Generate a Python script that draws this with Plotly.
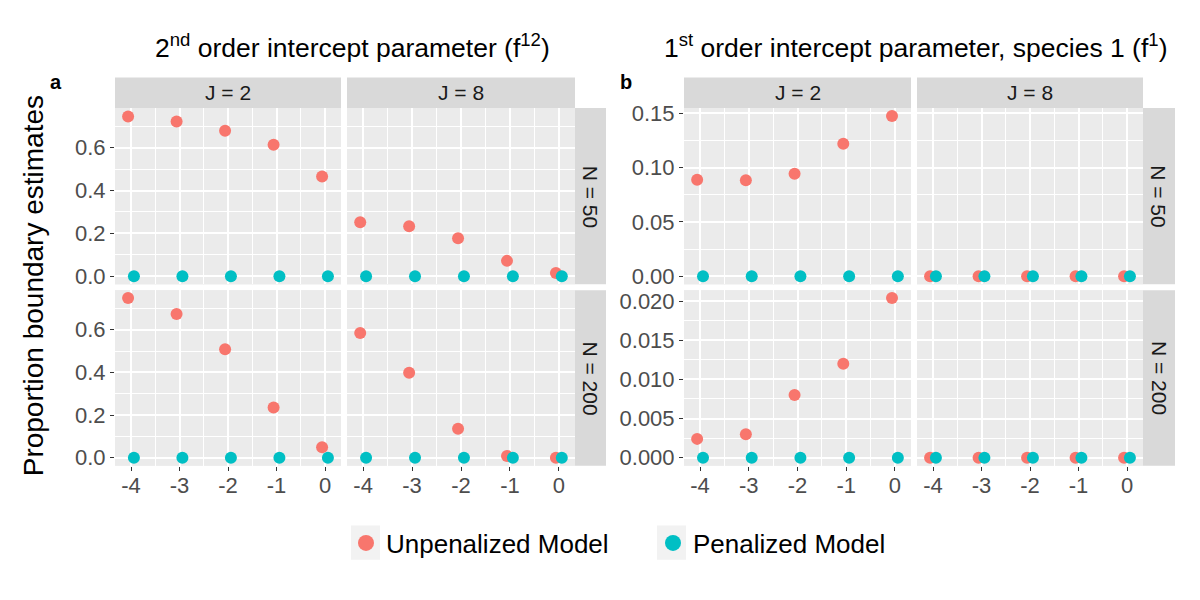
import plotly.graph_objects as go

W, H = 1200, 600

# x values (intercept parameter) and their tick labels
x_vals = [-4, -3, -2, -1, 0]
x_ticklabels = ["-4", "-3", "-2", "-1", "0"]

# panel a: 2nd order intercept parameter (f12), unpenalized model
a_n50_j2 = [0.745, 0.722, 0.679, 0.613, 0.465]
a_n50_j8 = [0.252, 0.233, 0.177, 0.072, 0.015]
a_n200_j2 = [0.748, 0.674, 0.508, 0.235, 0.049]
a_n200_j8 = [0.584, 0.398, 0.136, 0.008, 0.0]

# panel b: 1st order intercept parameter, species 1 (f1), unpenalized model
b_n50_j2 = [0.0888, 0.0885, 0.0945, 0.122, 0.1475]
b_n50_j8 = [0.0, 0.0, 0.0, 0.0, 0.0]
b_n200_j2 = [0.0024, 0.003, 0.008, 0.012, 0.0204]
b_n200_j8 = [0.0, 0.0, 0.0, 0.0, 0.0]

# penalized model is always zero
penalized = [0.0, 0.0, 0.0, 0.0, 0.0]

col_labels = ["J = 2", "J = 8"]
row_labels = ["N = 50", "N = 200"]
series_names = ["Unpenalized Model", "Penalized Model"]

red = "#F8766D"
teal = "#00BFC4"
panel_bg = "#EBEBEB"
strip_bg = "#D9D9D9"
font = "Liberation Sans, Arial, sans-serif"
dodge = 0.06


def px_x(p):
    return p / W


def px_y(p):
    return 1 - p / H


def label(x, y, text, size, color="black", angle=0):
    # annotation centered on a pixel position
    return dict(xref="paper", yref="paper", x=px_x(x), y=px_y(y), text=text,
                xanchor="center", yanchor="middle", textangle=angle, showarrow=False,
                font=dict(size=size, color=color, family=font))


def box(x0, x1, y0, y1, color, layer="above"):
    # rectangle given in pixels from the top-left corner
    return dict(type="rect", xref="paper", yref="paper", layer=layer,
                x0=px_x(x0), x1=px_x(x1), y0=px_y(y1), y1=px_y(y0),
                fillcolor=color, line=dict(width=0))


# pixel boxes of the facets
col_px = {"a": [(115, 341), (347, 575)], "b": [(684, 911), (917, 1143)]}
row_px = [(103, 283), (289, 468)]
rstrip_px = {"a": (575, 606), "b": (1143, 1175)}
strip_top = 72

panels = [
    ("a", 0, 0, a_n50_j2), ("a", 0, 1, a_n50_j8),
    ("a", 1, 0, a_n200_j2), ("a", 1, 1, a_n200_j8),
    ("b", 0, 0, b_n50_j2), ("b", 0, 1, b_n50_j8),
    ("b", 1, 0, b_n200_j2), ("b", 1, 1, b_n200_j8),
]

# y scale of each row (fixed in a, free per row in b)
y_cfg = {
    ("a", 0): dict(range=[-0.0374, 0.785], dtick=0.2, minor=0.1, fmt=".1f"),
    ("a", 1): dict(range=[-0.0374, 0.785], dtick=0.2, minor=0.1, fmt=".1f"),
    ("b", 0): dict(range=[-0.0074, 0.155], dtick=0.05, minor=0.025, fmt=".2f"),
    ("b", 1): dict(range=[-0.00102, 0.0214], dtick=0.005, minor=0.0025, fmt=".3f"),
}

fig = go.Figure()
shapes = []
annotations = []

for i, (pid, r, c, unpen) in enumerate(panels, start=1):
    xa = "x" if i == 1 else f"x{i}"
    ya = "y" if i == 1 else f"y{i}"

    fig.add_trace(go.Scatter(
        x=[v - dodge for v in x_vals], y=unpen, mode="markers",
        marker=dict(color=red, size=12), name=series_names[0],
        showlegend=False, xaxis=xa, yaxis=ya,
    ))
    fig.add_trace(go.Scatter(
        x=[v + dodge for v in x_vals], y=penalized, mode="markers",
        marker=dict(color=teal, size=12), name=series_names[1],
        showlegend=False, xaxis=xa, yaxis=ya,
    ))

    x0, x1 = col_px[pid][c]
    y0, y1 = row_px[r]
    cfg = y_cfg[(pid, r)]
    bottom = r == 1
    left = c == 0

    fig.layout[f"xaxis{i}"] = dict(
        domain=[px_x(x0), px_x(x1)], anchor=ya, range=[-4.33, 0.33],
        tickmode="array", tickvals=x_vals, ticktext=x_ticklabels, showticklabels=bottom,
        ticks="outside" if bottom else "", ticklen=4, tickcolor="#333333",
        ticklabelstandoff=-4,
        tickfont=dict(size=22, color="#4D4D4D", family=font),
        showgrid=True, gridcolor="white", gridwidth=1.5,
        minor=dict(dtick=0.5, tick0=0.5, showgrid=True, gridcolor="white", gridwidth=0.7),
        zeroline=False, showline=False, fixedrange=True,
    )
    fig.layout[f"yaxis{i}"] = dict(
        domain=[px_y(y1), px_y(y0)], anchor=xa, range=cfg["range"],
        tick0=0, dtick=cfg["dtick"], tickformat=cfg["fmt"], showticklabels=left,
        ticks="outside" if left else "", ticklen=4, tickcolor="#333333",
        tickfont=dict(size=22, color="#4D4D4D", family=font),
        showgrid=True, gridcolor="white", gridwidth=1.5,
        minor=dict(dtick=cfg["minor"], showgrid=True, gridcolor="white", gridwidth=0.7),
        zeroline=False, showline=False, fixedrange=True,
    )

    # panel background
    shapes.append(box(x0, x1, y0, y1, panel_bg, layer="below"))

    # column strip on top row
    if r == 0:
        shapes.append(box(x0, x1, strip_top, y0, strip_bg))
        annotations.append(label((x0 + x1) / 2, (strip_top + y0) / 2, col_labels[c], 21, "#1A1A1A"))

    # row strip on right column
    if c == 1:
        s0, s1 = rstrip_px[pid]
        shapes.append(box(s0, s1, y0, y1, strip_bg))
        annotations.append(label((s0 + s1) / 2, (y0 + y1) / 2, row_labels[r], 21, "#1A1A1A", 90))

# legend entries (bigger keys than the points) with grey key boxes like ggplot
for name, color in zip(series_names, [red, teal]):
    fig.add_trace(go.Scatter(x=[None], y=[None], mode="markers", name=name,
                             marker=dict(color=color, size=16), showlegend=True))
shapes.append(box(351, 380, 529, 564, "#F2F2F2"))
shapes.append(box(657, 686, 529, 564, "#F2F2F2"))

# titles and panel letters
annotations += [
    label(352, 40, "2<sup>nd</sup> order intercept parameter (f<sup>12</sup>)", 26.5),
    label(915, 40, "1<sup>st</sup> order intercept parameter, species 1 (f<sup>1</sup>)", 26.5),
    label(56, 77, "<b>a</b>", 20),
    label(626, 77, "<b>b</b>", 20),
    label(33, 285, "Proportion boundary estimates", 28, angle=-90),
]

fig.update_layout(
    width=W, height=H, autosize=False,
    margin=dict(l=0, r=0, t=0, b=0),
    paper_bgcolor="white", plot_bgcolor=panel_bg,
    shapes=shapes, annotations=annotations,
    font=dict(family=font),
    legend=dict(orientation="h", x=px_x(346), xanchor="left", y=px_y(547), yanchor="middle",
                font=dict(size=26, color="black", family=font), bgcolor="rgba(0,0,0,0)",
                itemwidth=30, itemsizing="trace", entrywidth=262, entrywidthmode="pixels"),
)

# page without the default body margin, no mode bar
fig.write_html("out.html", config={"displayModeBar": False},
               post_script="document.body.style.margin='0px';")
